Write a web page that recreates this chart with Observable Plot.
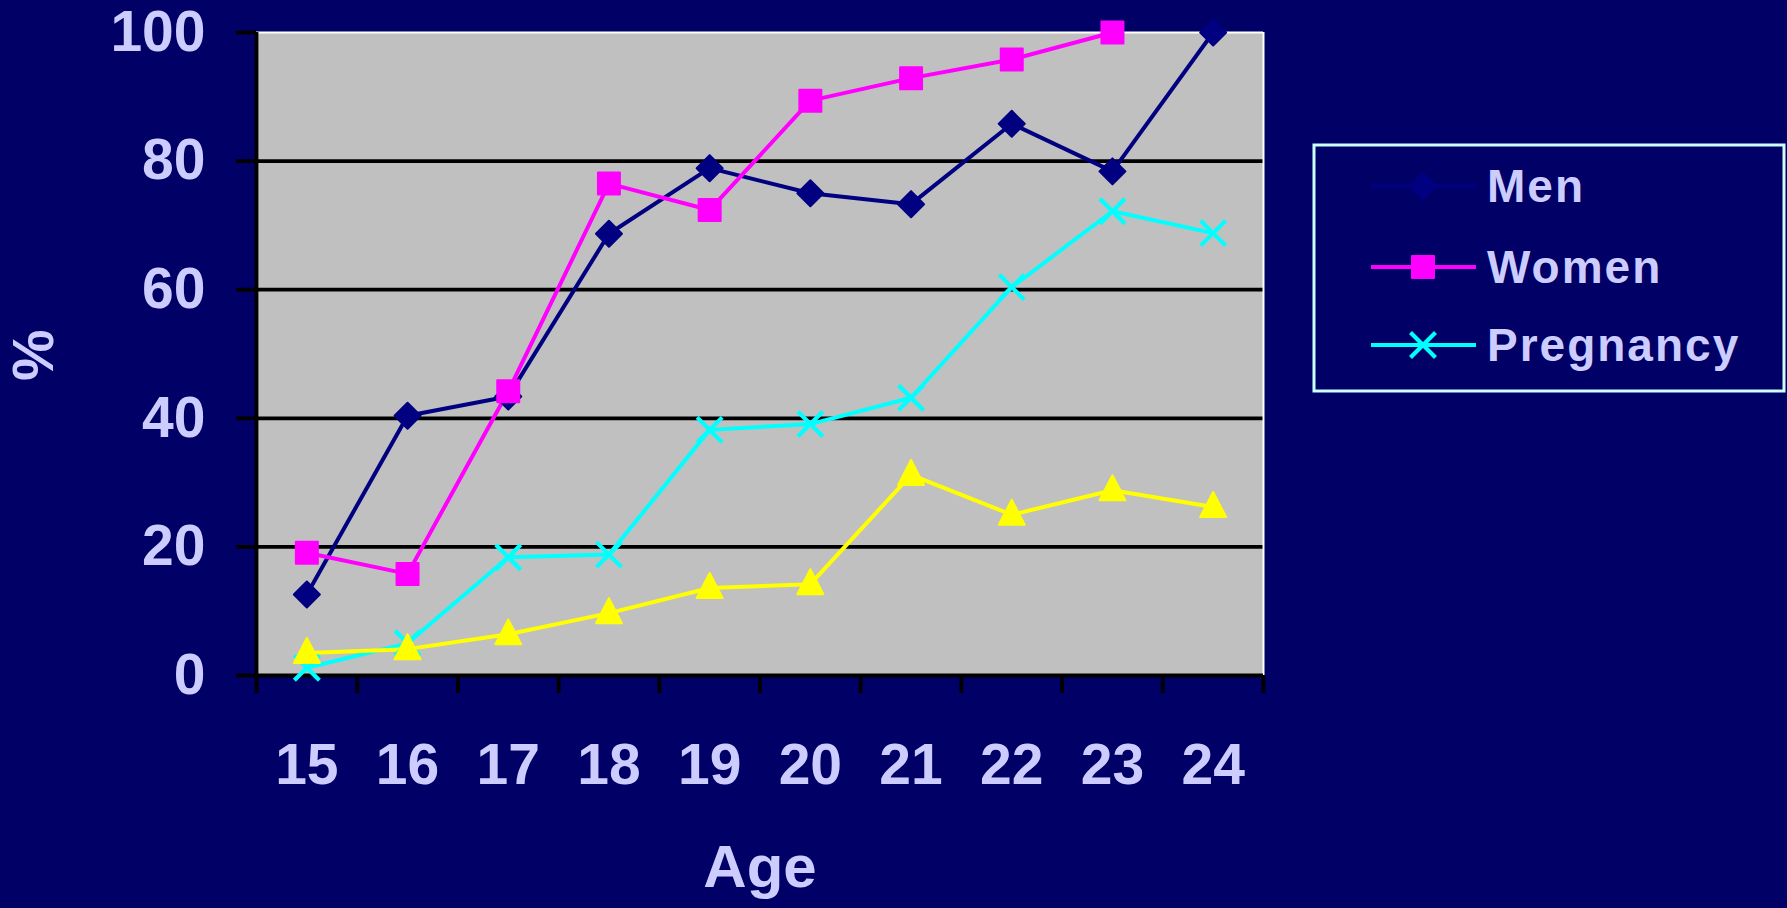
<!DOCTYPE html>
<html><head><meta charset="utf-8">
<script src="https://cdn.jsdelivr.net/npm/d3@7"></script>
<script src="https://cdn.jsdelivr.net/npm/@observablehq/plot@0.6"></script>
<style>html,body{margin:0;padding:0;background:#000066;overflow:hidden}</style>
</head><body><div id="chart"></div>
<script>
const ages = [15, 16, 17, 18, 19, 20, 21, 22, 23, 24];
const men = [12.6, 40.4, 43.4, 68.7, 78.9, 75.0, 73.3, 85.8, 78.4, 100];
const women = [19.1, 15.8, 44.2, 76.5, 72.4, 89.4, 92.9, 95.8, 100, null];
const pregnancy = [1.2, 5.0, 18.4, 18.8, 38.2, 39.1, 43.2, 60.4, 72.2, 68.8];
const series4 = [3.5, 4.1, 6.4, 9.7, 13.6, 14.2, 31.2, 25.0, 28.8, 26.2];
const seriesNames = ["Men", "Women", "Pregnancy", "Series 4"];
const legendNames = ["Men", "Women", "Pregnancy"];
const seriesColors = ["#000080", "#FF00FF", "#00FFFF", "#FFFF00"];
const yTicks = [0, 20, 40, 60, 80, 100];
const xTitle = "Age";
const yTitle = "%";

const TEXT = "#CCCCFF";
const diamond = {draw(c){c.moveTo(0,-13);c.lineTo(13,0);c.lineTo(0,13);c.lineTo(-13,0);c.closePath();}};
const square = {draw(c){c.moveTo(-11,-11);c.lineTo(11,-11);c.lineTo(11,11);c.lineTo(-11,11);c.closePath();}};
const times = {draw(c){c.moveTo(-12.5,-12.5);c.lineTo(12.5,12.5);c.moveTo(12.5,-12.5);c.lineTo(-12.5,12.5);}};
const triangle = {draw(c){c.moveTo(0,-15);c.lineTo(13,10);c.lineTo(-13,10);c.closePath();}};
const symbols = [diamond, square, times, triangle];
const filled = [true, true, false, true];

const valuesList = [men, women, pregnancy, series4];
const rows = [];
valuesList.forEach((vals, i) => ages.forEach((a, j) => {
  if (vals[j] != null) rows.push({age: a, value: vals[j], series: seriesNames[i], idx: i});
}));
const boundaries = ages.map(a => a - 0.5).concat([ages[ages.length - 1] + 0.5]);

const seriesMarks = [];
seriesNames.forEach((name, i) => {
  const d = rows.filter(r => r.idx === i);
  seriesMarks.push(Plot.line(d, {x: "age", y: "value", stroke: seriesColors[i], strokeWidth: 4}));
});
seriesNames.forEach((name, i) => {
  const d = rows.filter(r => r.idx === i);
  seriesMarks.push(Plot.dot(d, {x: "age", y: "value", symbol: () => symbols[i],
    fill: filled[i] ? seriesColors[i] : "none",
    stroke: seriesColors[i], strokeWidth: filled[i] ? 2 : 4.2, strokeLinejoin: "round", r: 10}));
});

const svg = Plot.plot({
  width: 1787, height: 908,
  marginLeft: 256, marginRight: 524, marginTop: 32, marginBottom: 233,
  style: {background: "#000066", fontFamily: "'Liberation Sans', Arial, sans-serif", fontWeight: "bold", color: TEXT},
  x: {domain: [boundaries[0], boundaries[boundaries.length - 1]], label: null},
  y: {domain: [0, 100], label: null},
  symbol: {type: "identity"},
  marks: [
    Plot.frame({fill: "#C0C0C0", stroke: null}),
    Plot.ruleY(yTicks.filter(v => v > 0 && v < 100), {stroke: "black", strokeWidth: 3.8}),
    Plot.ruleY([100], {stroke: "#ffffff", strokeWidth: 2}),
    Plot.ruleX([boundaries[boundaries.length - 1]], {stroke: "#ffffff", strokeWidth: 2}),
    Plot.axisY({ticks: yTicks, tickSize: 20, tickFormat: () => "", stroke: "black", strokeWidth: 3.8, label: null}),
    Plot.axisY({ticks: yTicks, tickSize: 0, tickPadding: 51, fontSize: 57, fill: TEXT, label: null}),
    Plot.axisX({ticks: boundaries, tickSize: 18, tickFormat: () => "", stroke: "black", strokeWidth: 3.8, label: null}),
    Plot.axisX({ticks: ages, tickSize: 0, tickPadding: 68, fontSize: 57, fill: TEXT, label: null}),
    Plot.ruleX([boundaries[0]], {stroke: "black", strokeWidth: 3.8}),
    Plot.ruleY([0], {stroke: "black", strokeWidth: 3.8}),
    ...seriesMarks,
    Plot.text([xTitle], {text: d => d, frameAnchor: "bottom", dy: 211, fontSize: 60, fill: TEXT}),
    Plot.text([yTitle], {text: d => d, frameAnchor: "left", dx: -222, dy: 27, rotate: -90, fontSize: 58, fill: TEXT})
  ]
});

// legend (right side, inside the svg)
const g = d3.select(svg).append("g").attr("text-anchor", "start");
g.append("rect").attr("x", 1314).attr("y", 145).attr("width", 470).attr("height", 246)
  .attr("fill", "none").attr("stroke", "#CCFFFF").attr("stroke-width", 3);
const rowY = [186, 267, 345];
legendNames.forEach((name, i) => {
  const y = rowY[i];
  g.append("line").attr("x1", 1371).attr("x2", 1476).attr("y1", y).attr("y2", y)
    .attr("stroke", seriesColors[i]).attr("stroke-width", 4);
  g.append("path").attr("transform", `translate(1423,${y})`)
    .attr("d", d3.symbol(symbols[i])())
    .attr("fill", filled[i] ? seriesColors[i] : "none")
    .attr("stroke", seriesColors[i]).attr("stroke-width", filled[i] ? 2 : 4.2)
    .attr("stroke-linejoin", "round");
  g.append("text").attr("x", 1487).attr("y", y).attr("dy", "0.35em")
    .attr("text-anchor", "start")
    .attr("fill", TEXT).attr("font-size", 46).attr("letter-spacing", 2)
    .attr("font-weight", "bold").text(name);
});
document.getElementById("chart").appendChild(svg);
</script>
</body></html>
